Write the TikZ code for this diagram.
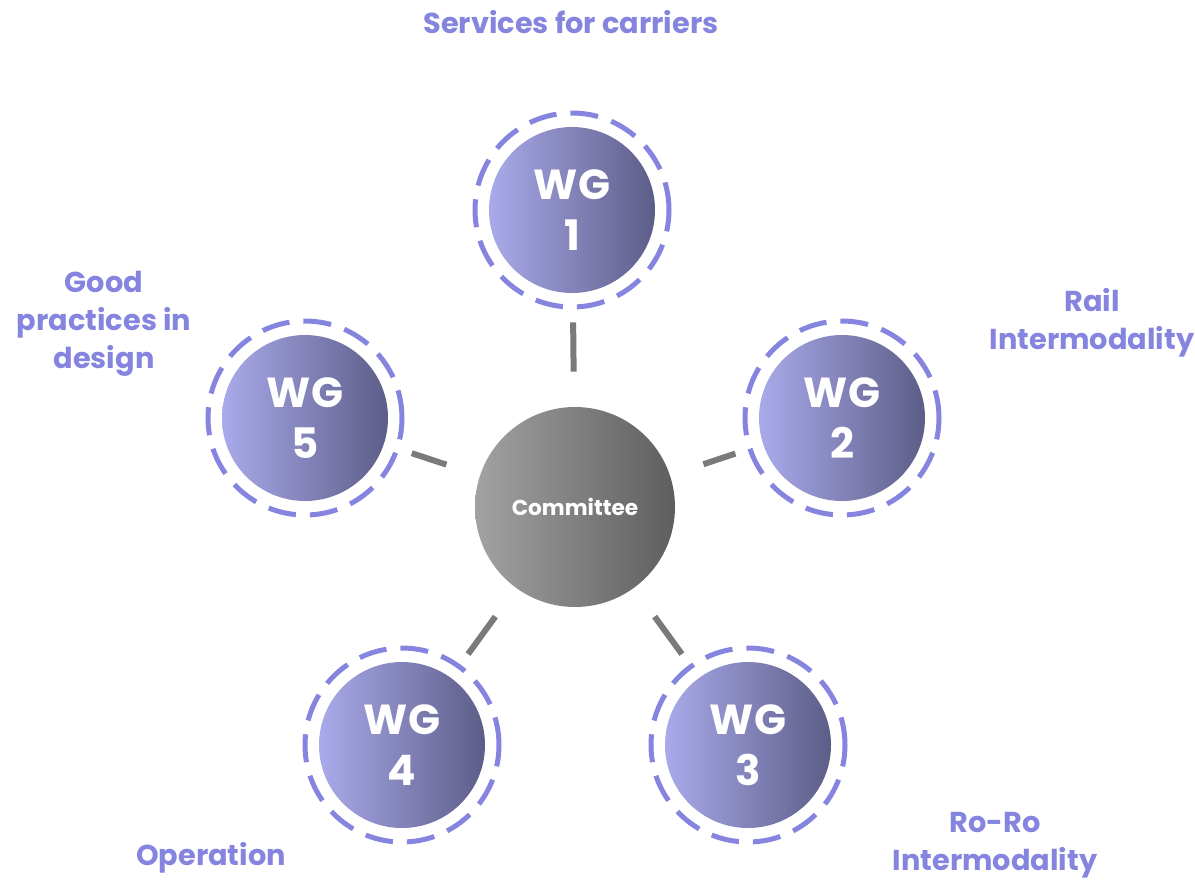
\documentclass[tikz,border=0pt]{standalone}
\usepackage{fontspec}
\setmainfont{Poppins}

\definecolor{wglight}{HTML}{A9AAEA}
\definecolor{wgdark}{HTML}{5D5D88}
\definecolor{comlight}{HTML}{A2A2A2}
\definecolor{comdark}{HTML}{5E5E5E}
\definecolor{topicblue}{HTML}{8584DF}
\definecolor{linkgray}{HTML}{7A7A7A}

\tikzset{
	wg/.style={circle,minimum size=83pt,inner sep=0pt,left color=wglight,right color=wgdark,
		text=white,align=center,font=\fontsize{21}{25.5}\selectfont\bfseries},
	wgring/.style={topicblue,line width=2.5pt,dash pattern=on 14pt off 7pt},
	committee/.style={circle,minimum size=100pt,inner sep=0pt,left color=comlight,right color=comdark,
		text=white,font=\fontsize{10.8}{12}\selectfont\bfseries},
	topic/.style={text=topicblue,align=center,font=\fontsize{14.4}{19}\selectfont\bfseries},
	link/.style={linkgray,line width=3pt,shorten <=17.5pt,shorten >=14.5pt}
}

\begin{document}
\begin{tikzpicture}[x={(0.5pt,0pt)},y={(0pt,-0.5pt)}]
	\useasboundingbox (0,0) rectangle (1195,879);
	\node[committee] (com) at (575,507) {Committee};
	\node[wg] (wg1) at (572,210) {WG\\1};
	\node[wg] (wg2) at (842,418) {WG\\2};
	\node[wg] (wg3) at (748,745) {WG\\3};
	\node[wg] (wg4) at (402,745) {WG\\4};
	\node[wg] (wg5) at (305,418) {WG\\5};
	\draw[wgring] (wg1.center) circle (48.5pt) (wg2.center) circle (48.5pt) (wg3.center) circle (48.5pt)
		(wg4.center) circle (48.5pt) (wg5.center) circle (48.5pt);
	\draw[link] (com) -- (wg1);
	\draw[link] (com) -- (wg2);
	\draw[link] (com) -- (wg3);
	\draw[link] (com) -- (wg4);
	\draw[link] (com) -- (wg5);
	\node[topic] (t1) at (571,22) {Services for carriers};
	\node[topic] (t2) at (1092,323) {Rail\\Intermodality};
	\node[topic] (t3) at (995,845) {Ro-Ro\\Intermodality};
	\node[topic] (t4) at (211,858) {Operation};
	\node[topic] (t5) at (104,324) {Good\\practices in\\design};
\end{tikzpicture}
\end{document}
